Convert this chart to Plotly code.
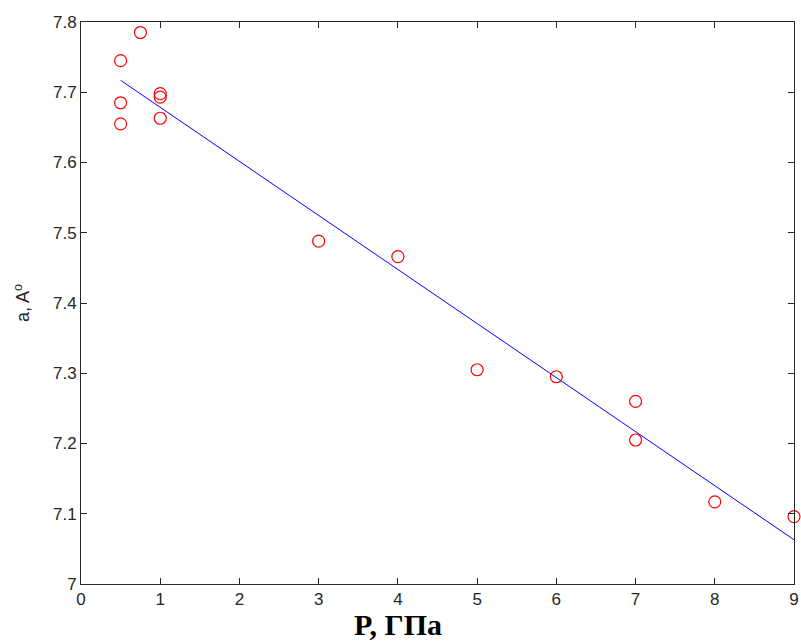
import plotly.graph_objects as go

p_vals = [0.5, 0.5, 0.5, 0.75, 1, 1, 1, 3, 4, 5, 6, 7, 7, 8, 9]
a_vals = [7.745, 7.685, 7.655, 7.785, 7.698, 7.693, 7.663, 7.488, 7.466,
          7.305, 7.295, 7.260, 7.205, 7.117, 7.096]
fit_x = [0.5, 9]
fit_y = [7.717, 7.063]

x_ticks = list(range(0, 10))
y_ticks = [7.0, 7.1, 7.2, 7.3, 7.4, 7.5, 7.6, 7.7, 7.8]
y_labels = ["7", "7.1", "7.2", "7.3", "7.4", "7.5", "7.6", "7.7", "7.8"]

fig = go.Figure()
fig.add_trace(go.Scatter(x=fit_x, y=fit_y, mode="lines",
                         line=dict(color="#0000ff", width=1), showlegend=False))
fig.add_trace(go.Scatter(x=p_vals, y=a_vals, mode="markers",
                         marker=dict(symbol="circle-open", color="#ff0000", size=12,
                                     line=dict(width=1.2, color="#ff0000")),
                         showlegend=False, cliponaxis=False))

axis_common = dict(showgrid=False, zeroline=False, showline=True, linecolor="#262626",
                   linewidth=1, mirror="ticks", ticks="inside", ticklen=6,
                   tickcolor="#262626", automargin=False,
                   tickfont=dict(family="Liberation Sans, Arial", size=17, color="#262626"))

fig.update_layout(
    width=801, height=643,
    margin=dict(l=81, r=7, t=22, b=59),
    paper_bgcolor="white", plot_bgcolor="white",
    xaxis=dict(range=[0, 9], tickvals=x_ticks, ticktext=[str(v) for v in x_ticks],
               ticklabeloverflow="allow", **axis_common),
    yaxis=dict(range=[7.0, 7.8], tickvals=y_ticks, ticktext=y_labels,
               ticklabeloverflow="allow",
               title=dict(text="a, A<sup>o</sup>", standoff=18,
                          font=dict(family="Liberation Sans, Arial", size=18, color="#262626")),
               **axis_common),
    annotations=[dict(text="<b>P, ГПа</b>", xref="paper", yref="paper",
                      x=0.4446, y=-0.0712, xanchor="center", yanchor="middle",
                      showarrow=False,
                      font=dict(family="Liberation Serif, Times New Roman", size=30, color="#000"))],
)

fig.write_html("out.html", config={"displayModeBar": False},
               post_script="document.body.style.margin='0';document.body.style.padding='0';")
